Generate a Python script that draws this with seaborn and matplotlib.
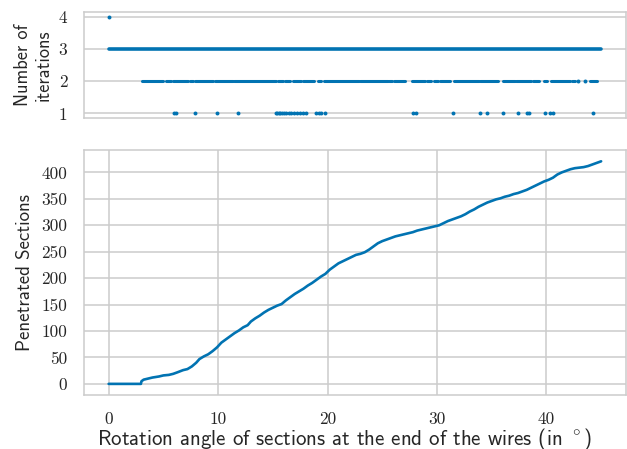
import numpy as np
import pandas as pd
import matplotlib
matplotlib.use("Agg")
import matplotlib.pyplot as plt
import seaborn as sns
from matplotlib.ticker import FuncFormatter

# --- data -----------------------------------------------------------------
# Rotation angle (deg) vs. cumulative number of penetrated sections
angles = [0.0, 2.95, 3.0, 3.2, 3.6, 4.0, 4.6, 5.0, 5.5, 5.9, 6.3, 6.8, 7.2, 7.6,
          8.0, 8.3, 8.7, 9.1, 9.5, 9.9, 10.3, 10.7, 11.1, 11.5, 11.9, 12.3, 12.7,
          13.0, 13.4, 13.8, 14.2, 14.6, 15.0, 15.4, 15.8, 16.2, 16.6, 17.0, 17.4,
          17.8, 18.2, 18.6, 19.0, 19.4, 19.8, 20.2, 20.6, 21.0, 21.4, 21.8, 22.2,
          22.6, 23.0, 23.4, 23.8, 24.2, 24.6, 25.0, 25.4, 25.8, 26.2, 26.6, 27.0,
          27.4, 27.8, 28.2, 28.6, 29.0, 29.4, 29.8, 30.2, 30.6, 31.0, 31.4, 31.8,
          32.2, 32.6, 33.0, 33.4, 33.8, 34.2, 34.6, 35.0, 35.4, 35.8, 36.2, 36.6,
          37.0, 37.4, 37.8, 38.2, 38.6, 39.0, 39.4, 39.8, 40.2, 40.6, 41.0, 41.4,
          41.8, 42.2, 42.6, 43.0, 43.4, 43.8, 44.2, 44.6, 45.0]
sections = [0, 0, 5, 8, 10, 12, 14, 16, 17, 19, 22, 26, 28, 33,
            40, 47, 52, 56, 62, 69, 78, 84, 90, 96, 101, 107, 111,
            118, 124, 129, 135, 140, 144, 148, 151, 158, 164, 170, 175,
            180, 186, 191, 197, 203, 208, 216, 222, 228, 232, 236, 240,
            244, 246, 249, 254, 260, 266, 270, 273, 276, 279, 281, 283,
            285, 287, 290, 292, 294, 296, 298, 300, 304, 308, 311, 314,
            317, 321, 326, 330, 335, 339, 343, 346, 349, 351, 354, 356,
            359, 361, 364, 367, 371, 375, 379, 383, 386, 390, 396, 400,
            403, 406, 408, 409, 410, 412, 415, 418, 421]

# Number of solver iterations per angle: dense runs (start, end) and single angles
iter4_angles = [0.0]
iter3_runs = [(0.0, 45.0)]
iter2_runs = [(3.05, 4.95), (5.25, 5.7), (5.9, 7.25), (7.4, 7.7), (7.85, 9.5),
              (9.7, 11.35), (11.5, 15.3), (15.5, 15.9), (16.1, 16.6), (16.8, 17.6),
              (17.8, 18.8), (19.1, 19.4), (19.7, 22.9), (23.0, 25.5), (25.6, 25.9),
              (26.1, 27.1), (27.7, 28.9), (29.1, 29.5), (29.7, 30.1), (30.3, 31.2),
              (31.6, 33.8), (33.95, 35.6), (36.0, 37.1), (37.25, 38.6), (38.75, 39.3),
              (39.8, 40.1), (40.4, 42.2), (42.3, 42.6), (44.0, 44.6)]
iter2_angles = [42.9, 43.5]
iter1_angles = [6.0, 6.15, 7.85, 9.9, 11.8, 15.25, 15.4, 15.55, 15.7, 15.85, 16.0,
                16.2, 16.45, 16.7, 16.9, 17.2, 17.5, 17.75, 18.0, 18.95, 19.2, 19.4,
                19.75, 27.8, 28.1, 31.45, 33.9, 34.6, 36.0, 37.4, 38.2, 38.4, 39.85,
                40.3, 40.6, 44.3]

iter_ticks = [1, 2, 3, 4]
section_ticks = [0, 50, 100, 150, 200, 250, 300, 350, 400]
angle_ticks = [0, 10, 20, 30, 40]

# --- style ----------------------------------------------------------------
sns.set_theme(style="whitegrid", palette="colorblind")
plt.rcParams["font.family"] = ["DejaVu Sans"]
plt.rcParams["mathtext.fontset"] = "cm"
plt.rcParams["grid.linewidth"] = 1.1
plt.rcParams["axes.linewidth"] = 1.1
blue = sns.color_palette("colorblind")[0]
label_font = ["cmss10", "DejaVu Sans"]

fig = plt.figure(figsize=(6.27, 4.49), dpi=100)
gs = fig.add_gridspec(2, 1, height_ratios=[106, 245], hspace=0.1825,
                      left=0.134, right=0.998, top=0.9726, bottom=0.1203)
ax_top = fig.add_subplot(gs[0])
ax_bot = fig.add_subplot(gs[1], sharex=ax_top)

# --- top: iterations ------------------------------------------------------
def draw_runs(ax, runs, level, lw):
    starts = [r[0] for r in runs]
    ends = [r[1] for r in runs]
    coll = ax.hlines([level] * len(runs), starts, ends, color=blue, lw=lw)
    coll.set_capstyle("round")

draw_runs(ax_top, iter3_runs, 3, 2.6)
draw_runs(ax_top, iter2_runs, 2, 2.2)
pts = pd.DataFrame({
    "angle": iter4_angles + iter2_angles + iter1_angles,
    "iterations": [4] * len(iter4_angles) + [2] * len(iter2_angles) + [1] * len(iter1_angles),
})
sns.scatterplot(data=pts, x="angle", y="iterations", ax=ax_top, color=blue,
                s=8, linewidth=0, legend=False)
ax_top.set_yticks(iter_ticks)
ax_top.xaxis.grid(False)
ax_top.tick_params(axis="x", labelbottom=False)
ax_top.set_xlabel("")
ax_top.set_ylabel("Number of\niterations", family=label_font,
                  fontsize=13.2, linespacing=1.2, labelpad=4)

# --- bottom: penetrated sections -----------------------------------------
df = pd.DataFrame({"angle": angles, "sections": sections})
sns.lineplot(data=df, x="angle", y="sections", ax=ax_bot, color=blue, lw=1.9)
ax_bot.set_yticks(section_ticks)
ax_bot.set_xticks(angle_ticks)
ax_bot.set_xlabel(r"Rotation angle of sections at the end of the wires (in $^\circ$)",
                  family=label_font, fontsize=15.1)
ax_bot.xaxis.set_label_coords(0.4815, -0.128)
ax_bot.set_ylabel("Penetrated Sections", family=label_font, fontsize=13.6, labelpad=5)

ax_top.set_xlim(-2.25, 47.25)
ax_top.set_ylim(0.85, 4.15)
ax_bot.set_ylim(-21, 442)

fmt = FuncFormatter(lambda v, p: f"{v:g}")
for ax in (ax_top, ax_bot):
    ax.yaxis.set_major_formatter(fmt)
    ax.tick_params(labelsize=12.5, pad=6, labelfontfamily="cmr10")
ax_bot.xaxis.set_major_formatter(fmt)

fig.savefig("out.png", dpi=100)
